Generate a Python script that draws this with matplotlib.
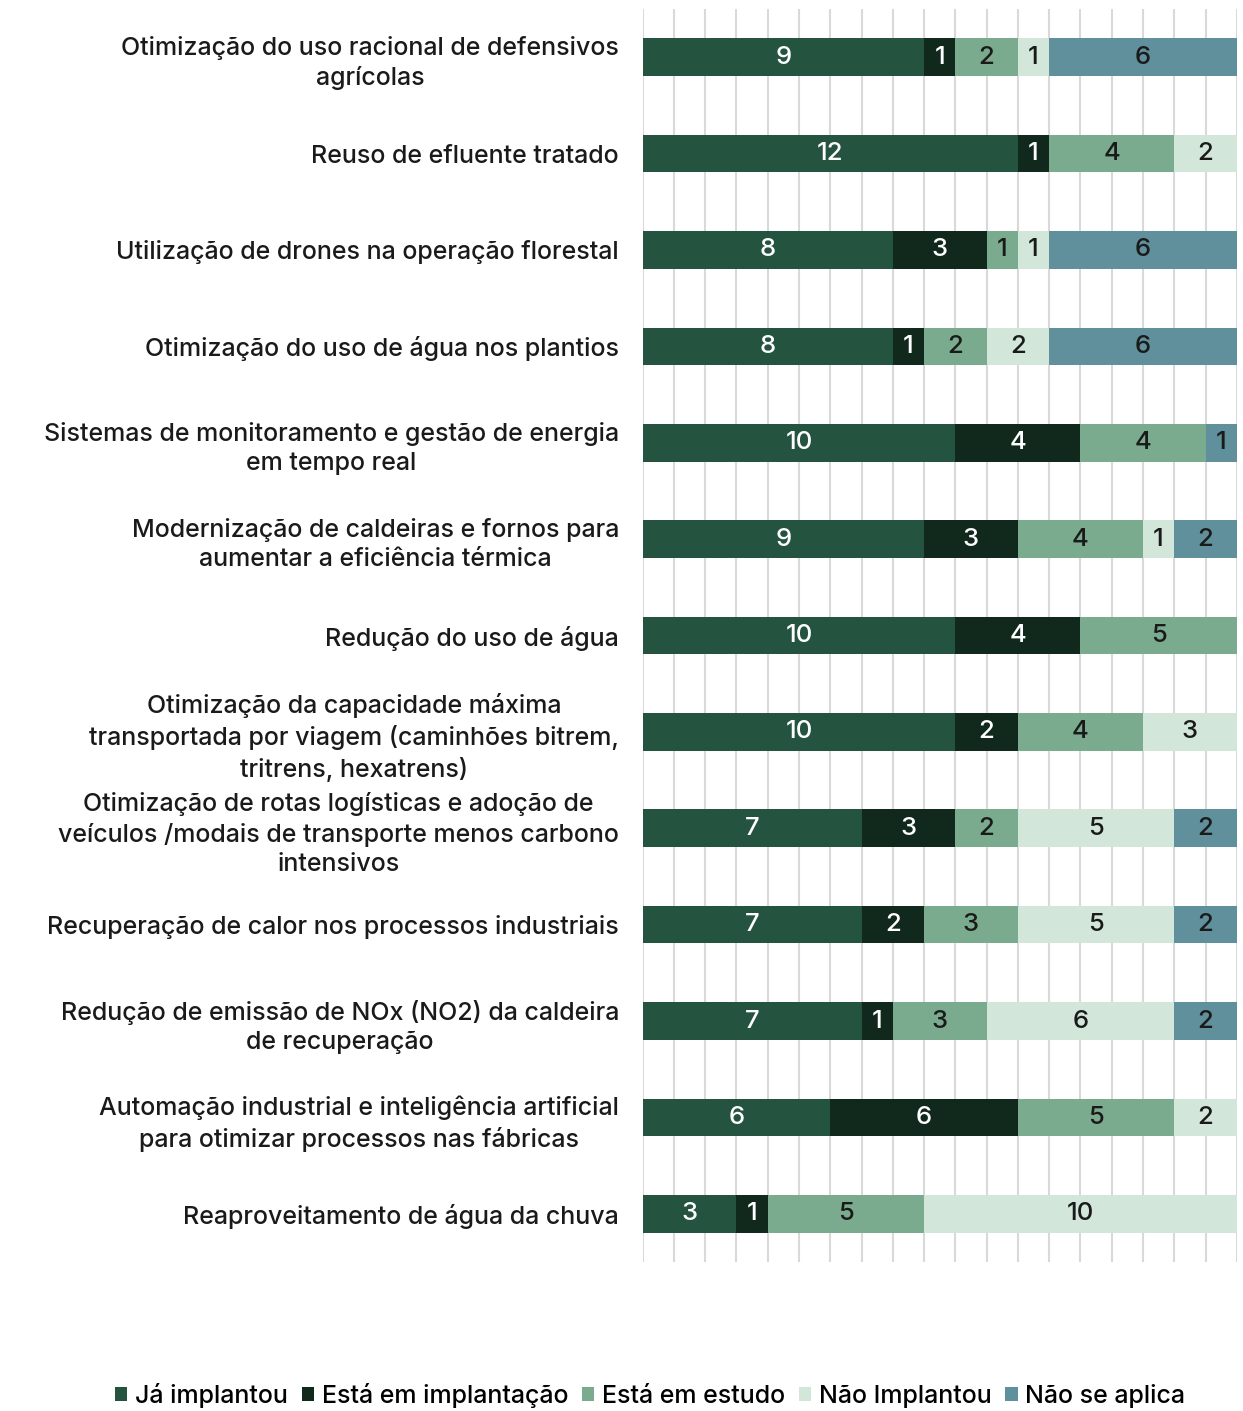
import numpy as np
import matplotlib.pyplot as plt

plt.rcParams['font.family'] = ['Inter', 'DejaVu Sans']

categorias = [
    "Otimização do uso racional de defensivos\nagrícolas",
    "Reuso de efluente tratado",
    "Utilização de drones na operação florestal",
    "Otimização do uso de água nos plantios",
    "Sistemas de monitoramento e gestão de energia\nem tempo real",
    "Modernização de caldeiras e fornos para\naumentar a eficiência térmica",
    "Redução do uso de água",
    "Otimização da capacidade máxima\ntransportada por viagem (caminhões bitrem,\ntritrens, hexatrens)",
    "Otimização de rotas logísticas e adoção de\nveículos /modais de transporte menos carbono\nintensivos",
    "Recuperação de calor nos processos industriais",
    "Redução de emissão de NOx (NO2) da caldeira\nde recuperação",
    "Automação industrial e inteligência artificial\npara otimizar processos nas fábricas",
    "Reaproveitamento de água da chuva",
]

ja_implantou = [9, 12, 8, 8, 10, 9, 10, 10, 7, 7, 7, 6, 3]
em_implantacao = [1, 1, 3, 1, 4, 3, 4, 2, 3, 2, 1, 6, 1]
em_estudo = [2, 4, 1, 2, 4, 4, 5, 4, 2, 3, 3, 5, 5]
nao_implantou = [1, 2, 1, 2, 0, 1, 0, 3, 5, 5, 6, 2, 10]
nao_se_aplica = [6, 0, 6, 6, 1, 2, 0, 0, 2, 2, 2, 0, 0]

series = [
    ("Já implantou", ja_implantou, "#245440", "white"),
    ("Está em implantação", em_implantacao, "#11291d", "white"),
    ("Está em estudo", em_estudo, "#7aab8e", "#1a1a1a"),
    ("Não Implantou", nao_implantou, "#d2e6da", "#1a1a1a"),
    ("Não se aplica", nao_se_aplica, "#5f909c", "#1a1a1a"),
]

fig = plt.figure(figsize=(12.43, 14.11), dpi=100)
ax = fig.add_axes([0.517, 0.1056, 0.478, 0.888])

y = np.arange(len(categorias))
esquerda = np.zeros(len(categorias))
for nome, valores, cor, cor_txt in series:
    valores = np.array(valores)
    barras = ax.barh(y, valores, left=esquerda, height=0.39, color=cor,
                     label=nome, zorder=3)
    for b, v in zip(barras, valores):
        if v > 0:
            ax.text(b.get_x() + b.get_width() / 2, b.get_y() + b.get_height() / 2,
                    str(v), ha='center', va='center', color=cor_txt,
                    fontsize=18.5, fontweight='medium', zorder=4)
    esquerda += valores

ax.set_xlim(0, 19)
ax.set_ylim(len(categorias) - 0.5, -0.5)
ax.set_xticks(np.arange(0, 20))
ax.xaxis.grid(True, color='#d9d9d9', linewidth=1.5, zorder=0)
ax.tick_params(axis='x', length=0, labelbottom=False)
ax.tick_params(axis='y', length=0, pad=17)
ax.set_yticks(y)
ax.set_yticklabels(categorias, fontsize=18, fontweight='medium',
                   color='#1a1a1a', ha='right', multialignment='center',
                   linespacing=1.35)
for s in ax.spines.values():
    s.set_visible(False)

handles, labels = ax.get_legend_handles_labels()
fig.legend(handles, labels, loc='center', bbox_to_anchor=(0.523, 0.011),
           ncol=5, frameon=False, handlelength=0.5, handleheight=0.5,
           handletextpad=0.3, columnspacing=0.55,
           prop={'size': 18, 'weight': 'medium'})

fig.savefig('out.png', dpi=100)
